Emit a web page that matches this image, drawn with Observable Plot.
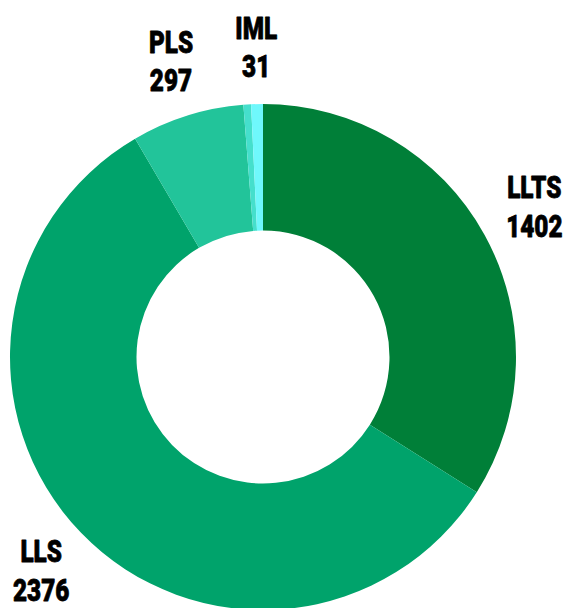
<!DOCTYPE html>
<html>
<head>
<meta charset="utf-8">
<script src="https://cdn.jsdelivr.net/npm/d3@7"></script>
<script src="https://cdn.jsdelivr.net/npm/@observablehq/plot@0.6"></script>
<style>
  html, body { margin: 0; padding: 0; background: #fff; }
  #chart svg { display: block; }
</style>
</head>
<body>
<div id="chart"></div>
<script>
const categories = ["LLTS", "LLS", "PLS", "Other", "IML"];
const values = [1402, 2376, 297, 20, 31];
const colors = ["#007f38", "#00a36b", "#22c49a", "#45dfcc", "#6ff8fc"];
const showLabel = [true, true, true, false, true];

const data = categories.map((name, i) => ({name, value: values[i], color: colors[i], show: showLabel[i]}));
const arcs = d3.pie().sort(null).value(d => d.value)(data);
arcs.forEach(a => { a.mid = (a.startAngle + a.endAngle) / 2; });

const innerRatio = 0.5;
const labelR = 1.222;
const squeeze = 0.76;

const donut = (index, scales) => {
  const cx = scales.x(0), cy = scales.y(0);
  const R = scales.x(1) - scales.x(0);
  const arc = d3.arc().innerRadius(R * innerRatio).outerRadius(R);
  const g = d3.create("svg:g").attr("transform", `translate(${cx},${cy})`);
  g.selectAll("path").data(arcs).join("path")
    .attr("d", arc)
    .attr("fill", d => d.data.color);
  return g.node();
};

const labels = arcs.filter(a => a.data.show);

const chart = Plot.plot({
  width: 567,
  height: 608,
  margin: 0,
  x: {domain: [-1.0395, 1.2016], axis: null},
  y: {domain: [-0.9921, 1.4111], axis: null},
  marks: [
    donut,
    Plot.text(labels, {
      x: d => labelR * Math.sin(d.mid),
      y: d => labelR * Math.cos(d.mid),
      text: d => d.data.name + "\n" + d.data.value,
      fontSize: 32,
      fontWeight: 900,
      lineHeight: 1.2,
      dy: -3,
      fill: "#000",
      stroke: "#000",
      strokeWidth: 0.8
    })
  ],
  style: {fontFamily: "Roboto, 'DejaVu Sans', sans-serif", background: "#fff"}
});

d3.select(chart).selectAll("text").each(function() {
  const x = +(this.getAttribute("x") || 0), y = +(this.getAttribute("y") || 0);
  const t = this.getAttribute("transform") || "";
  this.setAttribute("transform", `${t} translate(${x},${y}) scale(${squeeze},1) translate(${-x},${-y})`);
});

document.getElementById("chart").appendChild(chart);
</script>
</body>
</html>
